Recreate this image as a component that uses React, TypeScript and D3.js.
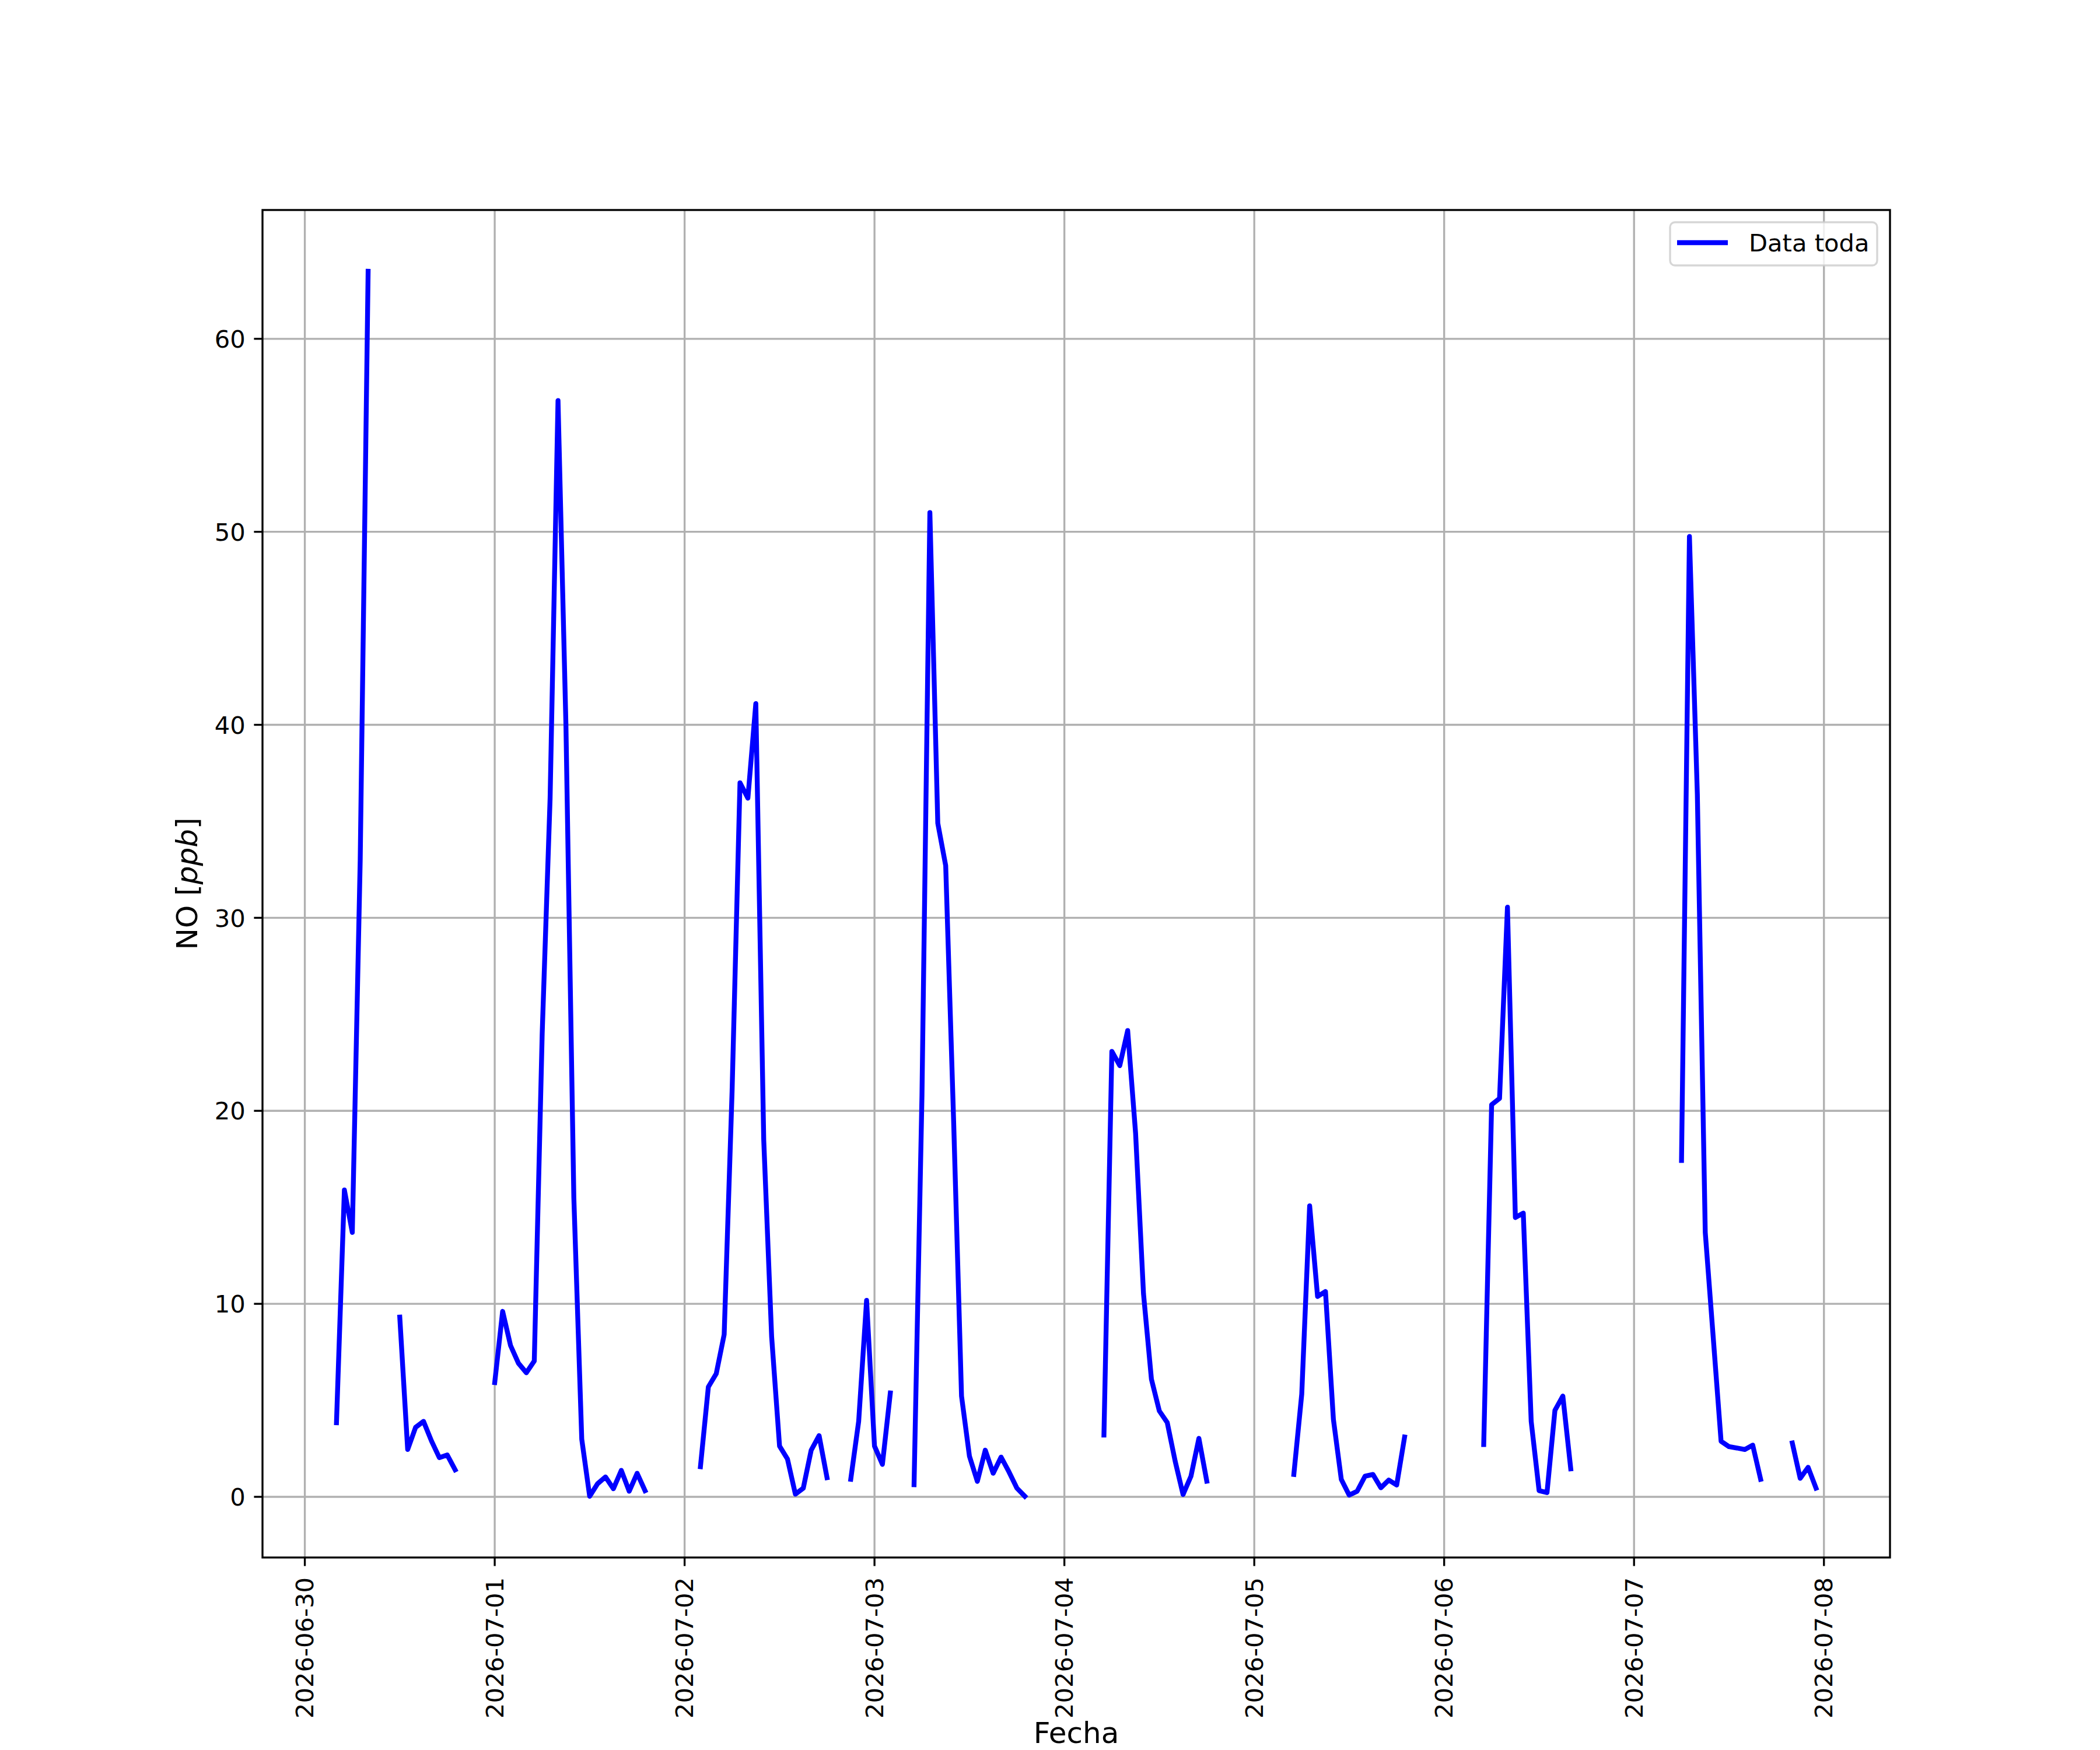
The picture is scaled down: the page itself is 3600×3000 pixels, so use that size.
import React from 'react';
import * as d3 from 'd3';

// Hourly NO readings, one array per day (hour 0..23), null = no data
const firstDay = Date.UTC(2026, 5, 30);
const jun30 = [null, null, null, null, 3.84, 15.9, 13.7, 33.0, 63.5, null, null, null, 9.31, 2.45, 3.6, 3.91, 2.9, 2.03, 2.17, 1.4, null, null, null, null];
const jul01 = [5.92, 9.61, 7.84, 6.92, 6.43, 7.04, 24.0, 36.2, 56.8, 40.0, 15.5, 2.99, 0.03, 0.68, 1.03, 0.42, 1.37, 0.29, 1.22, 0.32, null, null, null, null];
const jul02 = [null, null, 1.56, 5.69, 6.38, 8.41, 21.0, 37.0, 36.2, 41.1, 18.5, 8.3, 2.63, 1.96, 0.14, 0.45, 2.42, 3.17, 0.99, null, null, 0.91, 3.91, 10.18];
const jul03 = [2.63, 1.68, 5.38, null, null, 0.63, 20.8, 51.0, 34.9, 32.7, 19.5, 5.22, 2.11, 0.8, 2.42, 1.22, 2.06, 1.29, 0.45, 0.03, null, null, null, null];
const jul04 = [null, null, null, null, null, 3.2, 23.08, 22.34, 24.16, 18.84, 10.52, 6.1, 4.45, 3.85, 1.85, 0.12, 1.07, 3.03, 0.81, null, null, null, null, null];
const jul05 = [null, null, null, null, null, 1.16, 5.32, 15.08, 10.38, 10.64, 4.02, 0.9, 0.09, 0.29, 1.07, 1.16, 0.47, 0.87, 0.61, 3.1, null, null, null, null];
const jul06 = [null, null, null, null, null, 2.71, 20.32, 20.64, 30.55, 14.47, 14.7, 3.91, 0.32, 0.22, 4.48, 5.22, 1.45, null, null, null, null, null, null, null];
const jul07 = [null, null, null, null, null, null, 17.43, 49.76, 36.4, 13.7, 8.3, 2.88, 2.6, 2.53, 2.45, 2.68, 0.91, null, null, null, 2.79, 0.96, 1.53, 0.45];
const days = [jun30, jul01, jul02, jul03, jul04, jul05, jul06, jul07];

const yTicks = [0, 10, 20, 30, 40, 50, 60];
const seriesLabel = 'Data toda';
const xTitle = 'Fecha';

interface Pt { t: Date; v: number | null }

const points: Pt[] = days.flatMap((vals, d) =>
  vals.map((v, h) => ({ t: new Date(firstDay + (d * 24 + h) * 3600e3), v }))
);

const W = 3600;
const H = 3000;
const left = 450, right = 3240, top = 360, bottom = 2670;
const font = '"DejaVu Sans", sans-serif';
const tickFs = 41.67;
const labelFs = 50;
const lw = 3.33;

function pad([a, b]: [number, number]): [number, number] {
  const m = (b - a) * 0.05;
  return [a - m, b + m];
}

const App: React.FC = () => {
  const valid = points.filter(p => p.v != null);
  const tExt = d3.extent(valid, p => +p.t) as [number, number];
  const vExt = d3.extent(valid, p => p.v as number) as [number, number];

  const x = d3.scaleUtc().domain(pad(tExt).map(n => new Date(n))).range([left, right]);
  const y = d3.scaleLinear().domain(pad(vExt)).range([bottom, top]);

  const line = d3.line<Pt>()
    .defined(p => p.v != null)
    .x(p => x(p.t))
    .y(p => y(p.v as number));

  const xTicks = x.ticks(d3.utcDay.every(1) as d3.CountableTimeInterval);
  const fmt = d3.utcFormat('%Y-%m-%d');

  return (
    <svg width={W} height={H} style={{ position: 'absolute', left: 0, top: 0, background: '#fff' }} fontFamily={font}>
      <defs>
        <clipPath id="plot">
          <rect x={left} y={top} width={right - left} height={bottom - top} />
        </clipPath>
      </defs>
      <rect x={0} y={0} width={W} height={H} fill="#fff" />

      {/* grid */}
      <g stroke="#b0b0b0" strokeWidth={lw}>
        {xTicks.map(t => (
          <line key={+t} x1={x(t)} x2={x(t)} y1={top} y2={bottom} />
        ))}
        {yTicks.map(v => (
          <line key={v} x1={left} x2={right} y1={y(v)} y2={y(v)} />
        ))}
      </g>

      {/* data */}
      <path
        d={line(points) || ''}
        fill="none"
        stroke="#0000ff"
        strokeWidth={8.33}
        strokeLinejoin="round"
        strokeLinecap="square"
        clipPath="url(#plot)"
      />

      {/* frame */}
      <rect x={left} y={top} width={right - left} height={bottom - top} fill="none" stroke="#000" strokeWidth={lw} />

      {/* x axis */}
      <g>
        {xTicks.map(t => (
          <g key={+t}>
            <line x1={x(t)} x2={x(t)} y1={bottom} y2={bottom + 14.6} stroke="#000" strokeWidth={lw} />
            <text
              transform={`translate(${x(t) + 14.5},${bottom + 34}) rotate(-90)`}
              textAnchor="end"
              fontSize={tickFs}
            >
              {fmt(t)}
            </text>
          </g>
        ))}
      </g>

      {/* y axis */}
      <g>
        {yTicks.map(v => (
          <g key={v}>
            <line x1={left - 14.6} x2={left} y1={y(v)} y2={y(v)} stroke="#000" strokeWidth={lw} />
            <text x={left - 29.2} y={y(v) + 15.2} textAnchor="end" fontSize={tickFs}>
              {v}
            </text>
          </g>
        ))}
      </g>

      {/* axis titles */}
      <text x={(left + right) / 2} y={2988} textAnchor="middle" fontSize={labelFs}>
        {xTitle}
      </text>
      <text transform={`translate(338,${(top + bottom) / 2}) rotate(-90)`} textAnchor="middle" fontSize={labelFs}>
        NO [<tspan fontStyle="italic">ppb</tspan>]
      </text>

      {/* legend */}
      <g>
        <rect x={2863} y={381} width={355} height={74} rx={8.3} ry={8.3}
          fill="#fff" fillOpacity={0.8} stroke="#cccccc" strokeOpacity={0.8} strokeWidth={lw} />
        <line x1={2875} x2={2962} y1={416} y2={416} stroke="#0000ff" strokeWidth={8.33} />
        <text x={2998} y={431} fontSize={tickFs}>{seriesLabel}</text>
      </g>
    </svg>
  );
};

export default App;
